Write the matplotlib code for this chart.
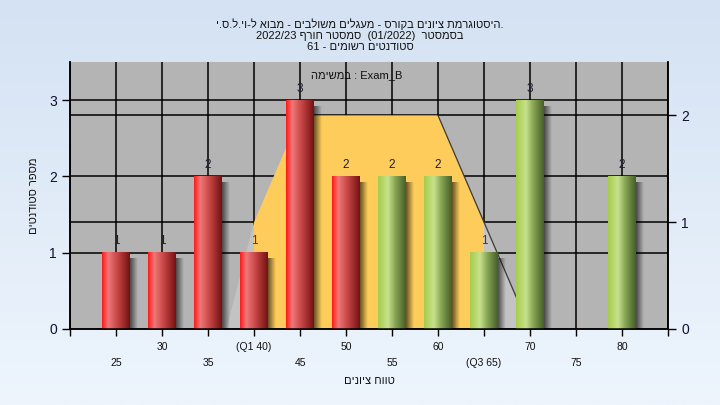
"""
Grade histogram (Hebrew course chart) - bars per score bin with a
quartile shape on the secondary axis.
"""
import re
import matplotlib
matplotlib.use('Agg')
import matplotlib.pyplot as plt
import numpy as np
from matplotlib.patches import Polygon
from matplotlib.colors import LinearSegmentedColormap

FONT = ['Liberation Sans', 'DejaVu Sans']
plt.rcParams['font.family'] = FONT

# ── data ─────────────────────────────────────────────────────────────────────
scores = [25, 30, 35, 40, 45, 50, 55, 60, 65, 70, 75, 80]
counts = [1, 1, 2, 1, 3, 2, 2, 2, 1, 3, 0, 2]
pass_from = 55                      # green from here on, red below

row1_ticks = [20, 30, 40, 50, 60, 70, 80]
row1_labels = ['', '30', '(Q1 40)', '50', '60', '70', '80']
row2_ticks = [25, 35, 45, 55, 65, 75, 85]
row2_labels = ['25', '35', '45', '55', '(Q3 65)', '75', '']
q_scores = [40, 65]

# quartile shape, right-axis units
box_x = [40, 40, 45, 60, 65, 65]
box_y = [0, 1, 2, 2, 1, 0]
lwhisk_x = [37, 40, 40]
lwhisk_y = [0, 1, 0]
rwhisk_x = [65, 65, 70]
rwhisk_y = [0, 1, 0]
trend_x = [60, 70]
trend_y = [2, 0]

LEFT_MAX, RIGHT_MAX = 3.5, 2.5
XMIN, XMAX = 20, 85
BAR_W = 3.0

title_lines = [
    "היסטוגרמת ציונים בקורס - מעגלים משולבים - מבוא ל-וי.ל.ס.י.",
    "בסמסטר  (01/2022)  סמסטר חורף 2022/23",
    "סטודנטים רשומים - 61",
]
task_text = "במשימה : Exam_B"
xlabel = "טווח ציונים"
ylabel = "מספר סטודנטים"

# ── simple bidi (LTR paragraph, hebrew runs reversed) ───────────────────────
MIRROR = {'(': ')', ')': '('}


def visual(s):
    toks = re.findall(r'[\u0590-\u05FF]+|\d+(?:[/.:,]\d+)*|[A-Za-z_][A-Za-z0-9_]*|.', s)

    def kind(t):
        if '\u0590' <= t[0] <= '\u05FF':
            return 'R'
        if t[0].isdigit():
            return 'N'
        if t[0].isalpha() or t[0] == '_':
            return 'L'
        return 'O'

    kinds = [kind(t) for t in toks]
    out = []
    i = 0
    while i < len(toks):
        if kinds[i] != 'R':
            out.append(toks[i])
            i += 1
            continue
        j, end = i, i
        while j < len(toks) and kinds[j] != 'L':
            if kinds[j] in 'RN':
                end = j
            j += 1
        for t, k in zip(toks[i:end + 1][::-1], kinds[i:end + 1][::-1]):
            if k == 'N':
                out.append(t)
            elif k == 'R':
                out.append(t[::-1])
            else:
                out.append(MIRROR.get(t, t))
        i = end + 1
    return ''.join(out)


# ── figure ───────────────────────────────────────────────────────────────────
fig = plt.figure(figsize=(7.2, 4.05), dpi=100)

bg = fig.add_axes([0, 0, 1, 1], zorder=-5)
bg_cmap = LinearSegmentedColormap.from_list('bg', ['#D4E2F3', '#EEF5FD'])
bg.imshow(np.linspace(0, 1, 256)[:, None], cmap=bg_cmap, aspect='auto',
          extent=(0, 1, 0, 1))
bg.axis('off')

ax = fig.add_axes([70 / 720, 1 - 329 / 405, 598 / 720, 267 / 405])
ax.set_facecolor('#B4B4B4')
ax2 = ax.twinx()

ax.set_xlim(XMIN, XMAX)
ax.set_ylim(0, LEFT_MAX)
ax2.set_ylim(0, RIGHT_MAX)

k = LEFT_MAX / RIGHT_MAX  # right-axis units -> left-axis units

# grid
for x in row1_ticks + row2_ticks:
    ax.axvline(x, color='black', lw=1.1, zorder=0.5)
for y in [1, 2, 3]:
    ax.axhline(y, color='black', lw=1.1, zorder=0.5)
for y in [1, 2]:
    ax.axhline(y * k, color='black', lw=1.1, zorder=0.5)

# quartile shape
ax.add_patch(Polygon(list(zip(lwhisk_x, np.array(lwhisk_y) * k)),
                     closed=True, fc='#C3C3C3', ec='none', zorder=1))
ax.add_patch(Polygon(list(zip(rwhisk_x, np.array(rwhisk_y) * k)),
                     closed=True, fc='#C3C3C3', ec='none', zorder=1))
ax.add_patch(Polygon(list(zip(box_x, np.array(box_y) * k)),
                     closed=True, fc='#FECC5A', ec='none', zorder=1.2))
ax.plot(trend_x, np.array(trend_y) * k, color='#3A3A3A', lw=0.9, zorder=1.3)

# bars with cylinder shading
red_stops = [(0.0, (255, 25, 25)), (0.22, (240, 120, 120)),
             (0.55, (200, 70, 70)), (1.0, (115, 18, 18))]
green_stops = [(0.0, (165, 205, 75)), (0.35, (200, 225, 140)),
               (0.65, (130, 160, 80)), (1.0, (70, 95, 40))]


def shade(stops, n=64):
    pos = [s[0] for s in stops]
    t = np.linspace(0, 1, n)
    rgb = np.stack([np.interp(t, pos, [s[1][c] for s in stops]) for c in range(3)],
                   axis=-1) / 255.0
    return rgb[None, :, :]


red_img = shade(red_stops)
green_img = shade(green_stops)
shadow = np.zeros((1, 32, 4))
shadow[..., 3] = np.linspace(0.6, 0.0, 32)

for x, c in zip(scores, counts):
    if c == 0:
        continue
    img = green_img if x >= pass_from else red_img
    x0 = x - BAR_W / 2
    ax.imshow(shadow, extent=(x0 + BAR_W, x0 + BAR_W + 0.8, 0, c - 0.08),
              aspect='auto', interpolation='bilinear', zorder=2.5)
    ax.imshow(img, extent=(x0, x0 + BAR_W, 0, c), aspect='auto',
              interpolation='bilinear', zorder=3)
    col = '#7A1F1F' if x in q_scores else '#1E1E34'
    ax.text(x, c + 0.07, str(c), ha='center', va='bottom', fontsize=8.5,
            color=col, zorder=4)

ax.set_xlim(XMIN, XMAX)
ax.set_ylim(0, LEFT_MAX)

# axes / ticks
ax.set_xticks(row1_ticks)
ax.set_xticklabels(row1_labels)
ax.set_xticks(row2_ticks, minor=True)
ax.set_xticklabels(row2_labels, minor=True)
ax.tick_params(axis='x', which='both', length=5, width=1, colors='black',
               labelsize=7.5, labelcolor='#111111')
ax.tick_params(axis='x', which='major', pad=4)
ax.tick_params(axis='x', which='minor', pad=16)
ax.set_yticks([0, 1, 2, 3])
ax.tick_params(axis='y', length=6, width=1, labelsize=10, labelcolor='#101030')
ax2.set_yticks([0, 1, 2])
ax2.tick_params(axis='y', length=6, width=1, labelsize=10, labelcolor='#101030')

for a in (ax, ax2):
    a.spines['top'].set_visible(False)
    for s in ('left', 'right', 'bottom'):
        a.spines[s].set_linewidth(1.1)
        a.spines[s].set_color('black')

ax.set_xlabel(visual(xlabel), fontsize=8, labelpad=6, color='#111111')
ax.set_ylabel(visual(ylabel), fontsize=8, labelpad=7, color='#111111')

ax.text(0.48, 0.95, visual(task_text), transform=ax.transAxes, ha='center',
        va='center', fontsize=8, color='#111111', zorder=5)

fig.text(0.5, 0.955, '\n'.join(visual(t) for t in title_lines), ha='center',
         va='top', fontsize=8, linespacing=1.15, color='#111111')

fig.savefig('out.png', dpi=100)
plt.close(fig)
print("out.png saved")
